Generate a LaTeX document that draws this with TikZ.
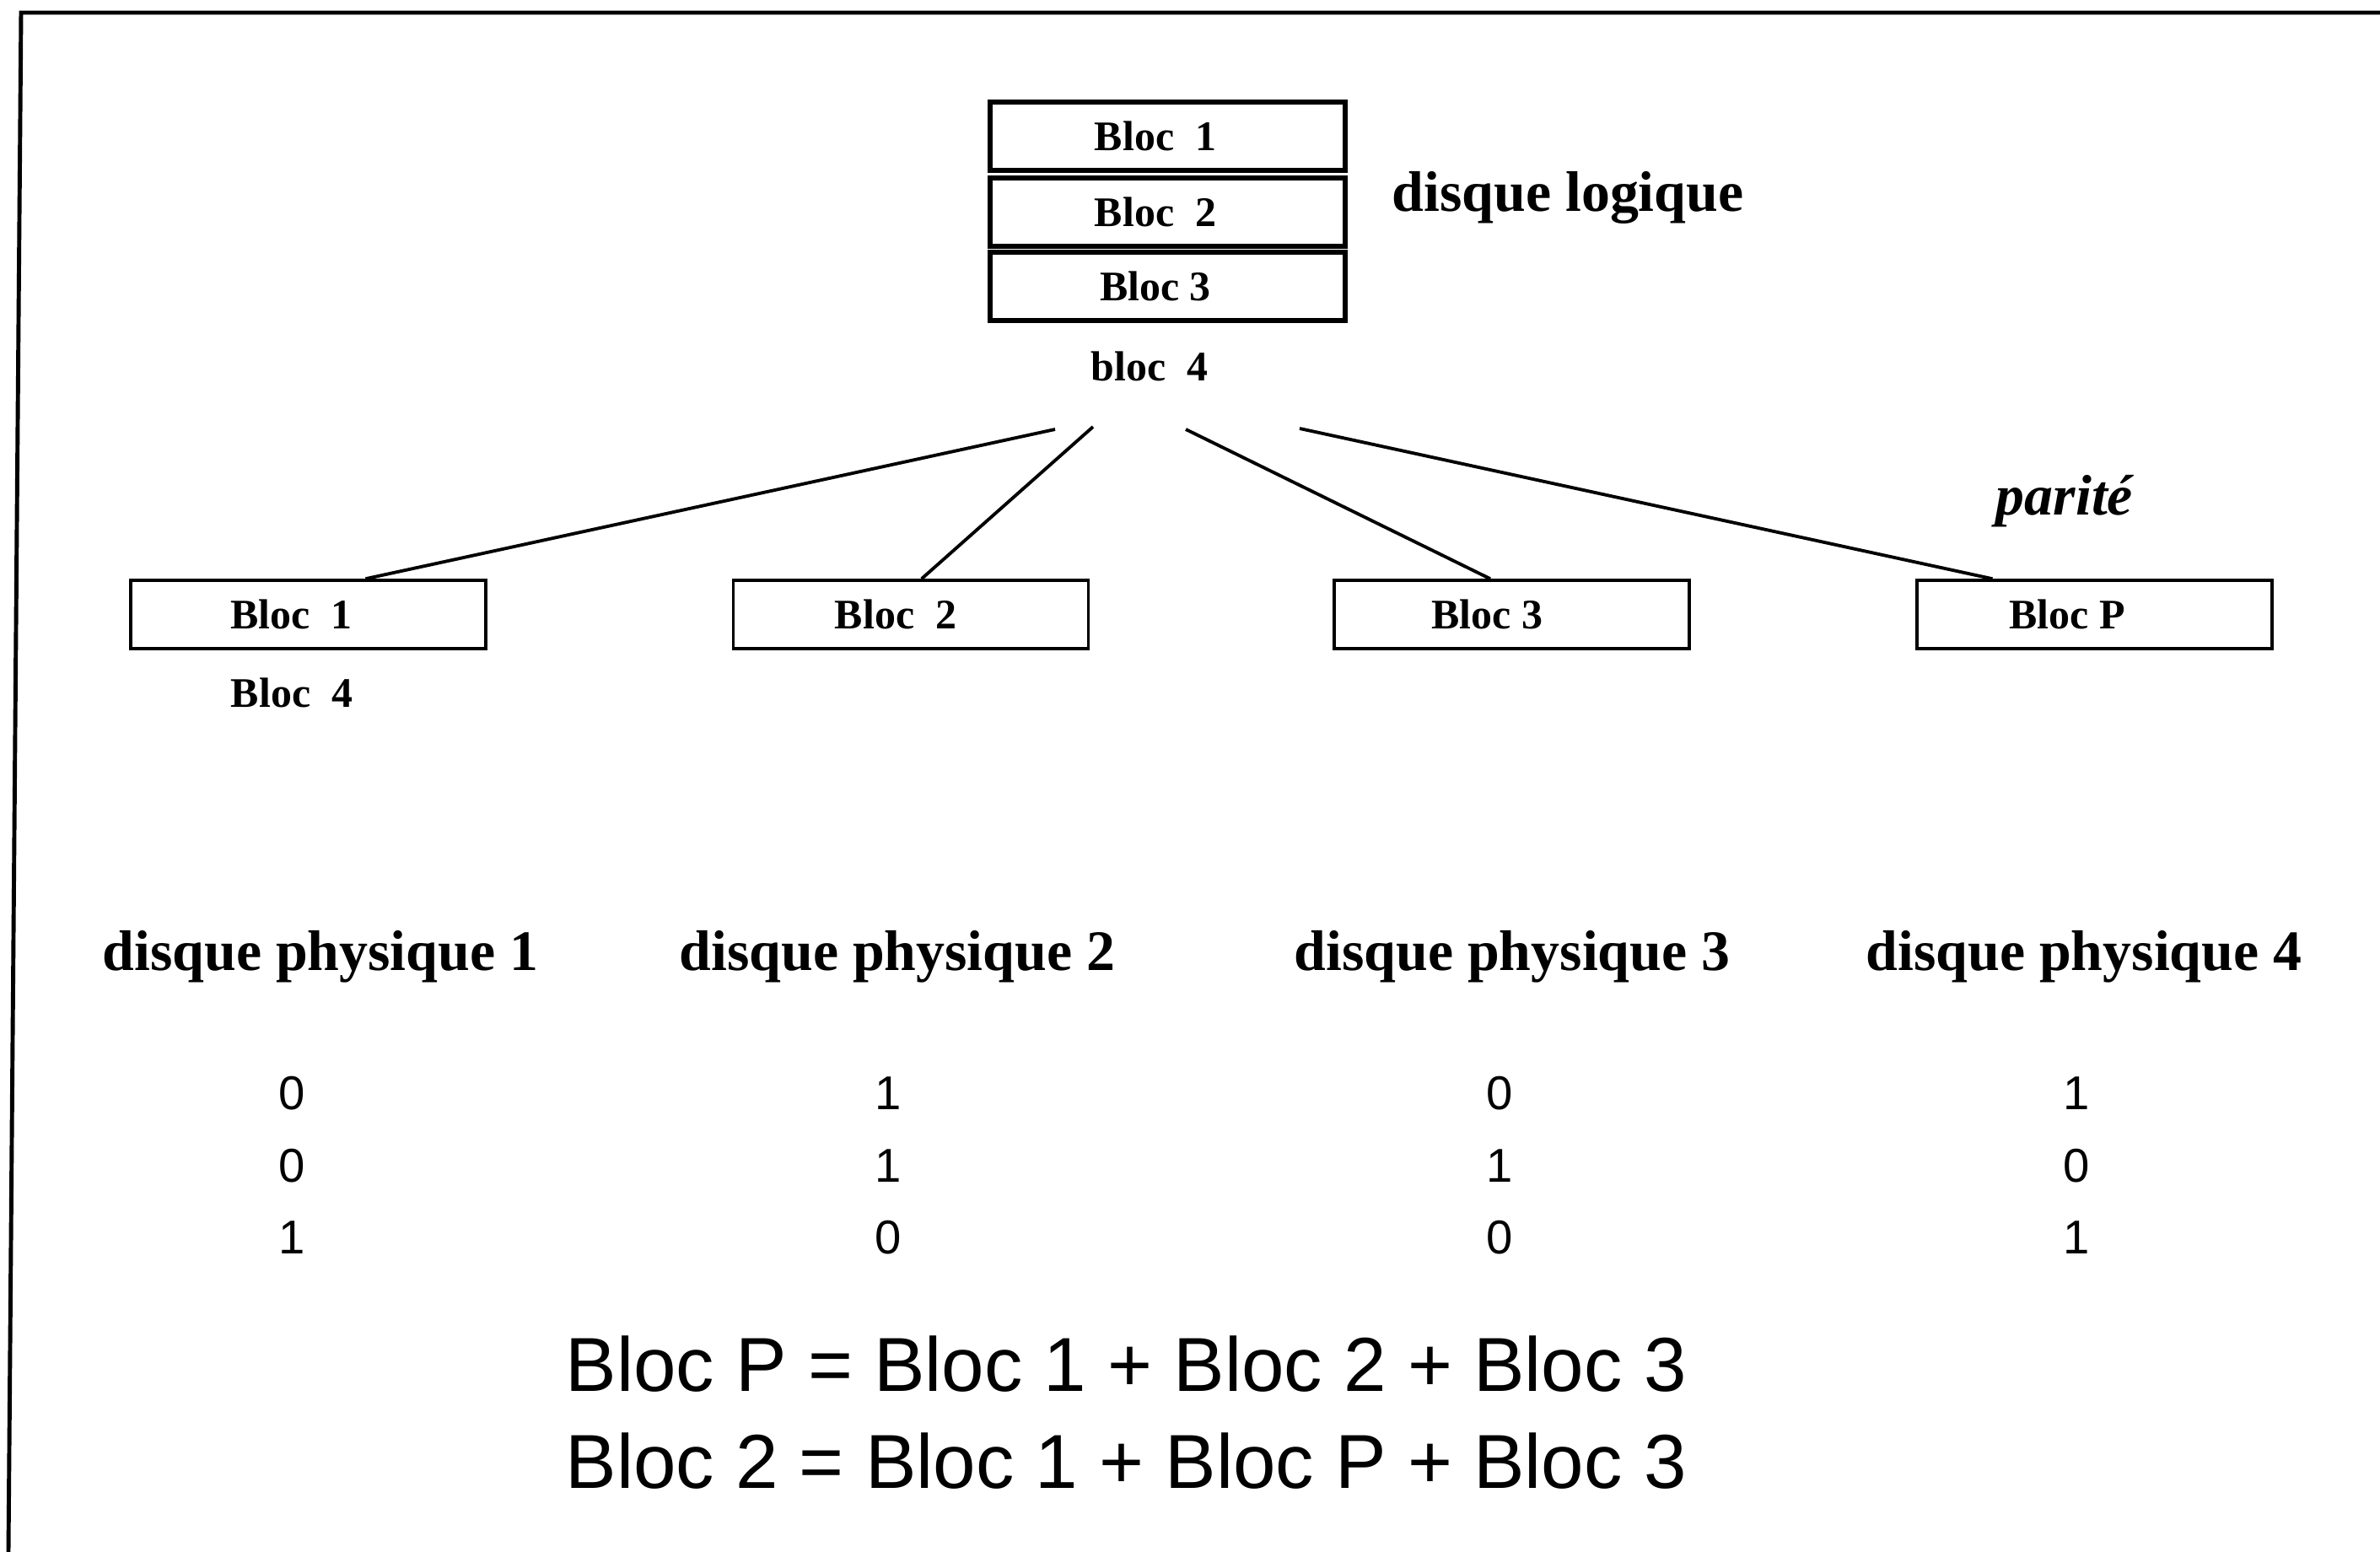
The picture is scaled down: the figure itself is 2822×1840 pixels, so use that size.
\documentclass[tikz,border=0pt]{standalone}
\usepackage{fontspec}
\setmainfont{Liberation Serif}
\newfontfamily\eqfont{Liberation Sans}
\usetikzlibrary{calc}
\newcommand{\padr}[1]{\hspace*{#1}}
\begin{document}
\begin{tikzpicture}[x=0.01cm,y=-0.01cm,
  lblk/.style={draw,line width=1.6pt,minimum width=4.21cm,minimum height=0.81cm,inner sep=0pt,font=\fontsize{14.2}{17}\selectfont\bfseries},
  pblk/.style={draw,line width=1pt,minimum width=4.21cm,minimum height=0.81cm,inner sep=0pt,font=\fontsize{14.2}{17}\selectfont\bfseries},
  lab/.style={inner sep=0pt,font=\fontsize{19.3}{23}\selectfont\bfseries},
  smalllab/.style={inner sep=0pt,font=\fontsize{14.2}{17}\selectfont\bfseries},
  dig/.style={inner sep=0pt,font=\eqfont\fontsize{16}{19}\selectfont},
  eq/.style={inner sep=0pt,anchor=base west,font=\eqfont\fontsize{25.8}{31}\selectfont},
  conn/.style={line width=1.1pt},
  frame/.style={line width=1.4pt}]
\useasboundingbox (0,0) rectangle (2822,1840);
% frame
\draw[frame] (2822,15) -- (25,15) -- (10,1840);
% logical disk
\node[lblk] (l1) at (1384.5,161.5) {Bloc\ \ 1\padr{0.29cm}};
\node[lblk] (l2) at (1384.5,251.5) {Bloc\ \ 2\padr{0.29cm}};
\node[lblk] (l3) at (1384.5,339.5) {Bloc 3\padr{0.29cm}};
\node[smalllab] (l4) at (1363,434) {bloc\ \ 4};
\node[lab] (dl) at (1859,234) {disque logique};
% physical blocks
\node[pblk] (p1) at (365.5,728.5) {Bloc\ \ 1\padr{0.40cm}};
\node[pblk] (p2) at (1080,728.5) {Bloc\ \ 2\padr{0.36cm}};
\node[pblk] (p3) at (1792.5,728.5) {Bloc 3\padr{0.58cm}};
\node[pblk] (pp) at (2483.5,728.5) {Bloc P\padr{0.65cm}};
\node[smalllab] (p4) at (346,821) {Bloc\ \ 4};
\node[lab,font=\fontsize{19.3}{23}\selectfont\bfseries\itshape] (par) at (2448,594) {parité};
% connectors
\coordinate (t1) at (1251,509);
\coordinate (t2) at (1296,506);
\coordinate (t3) at (1406,509);
\coordinate (t4) at (1541,508);
\draw[conn] (t1) -- ($(p1.north west)!0.66!(p1.north east)$);
\draw[conn] (t2) -- ($(p2.north west)!0.53!(p2.north east)$);
\draw[conn] (t3) -- ($(p3.north west)!0.44!(p3.north east)$);
\draw[conn] (t4) -- ($(pp.north west)!0.215!(pp.north east)$);
% physical disk labels
\node[lab] (d1) at (380,1134) {disque physique 1};
\node[lab] (d2) at (1064,1134) {disque physique 2};
\node[lab] (d3) at (1793,1134) {disque physique 3};
\node[lab] (d4) at (2471,1134) {disque physique 4};
% digits
\node[dig] (a1) at (346,1296) {0};
\node[dig] (a2) at (346,1382) {0};
\node[dig] (a3) at (346,1467) {1};
\node[dig] (b1) at (1053,1296) {1};
\node[dig] (b2) at (1053,1382) {1};
\node[dig] (b3) at (1053,1467) {0};
\node[dig] (c1) at (1778,1296) {0};
\node[dig] (c2) at (1778,1382) {1};
\node[dig] (c3) at (1778,1467) {0};
\node[dig] (e1) at (2462,1296) {1};
\node[dig] (e2) at (2462,1382) {0};
\node[dig] (e3) at (2462,1467) {1};
% equations
\node[eq] (q1) at (670,1649) {Bloc P = Bloc 1 + Bloc 2 + Bloc 3};
\node[eq] (q2) at (670,1764) {Bloc 2 = Bloc 1 + Bloc P + Bloc 3};
\end{tikzpicture}
\end{document}
